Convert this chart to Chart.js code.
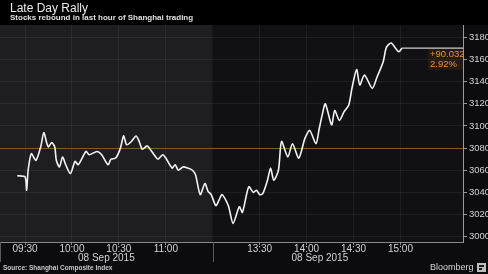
<!DOCTYPE html>
<html>
<head>
<meta charset="utf-8">
<script src="https://cdn.jsdelivr.net/npm/chart.js@4.4.0/dist/chart.umd.min.js"></script>
<style>
  html,body{margin:0;padding:0;background:#0c0c0f;}
  #wrap{position:relative;width:488px;height:274px;overflow:hidden;font-family:"Liberation Sans",Arial,sans-serif;}
  canvas{position:absolute;left:0;top:0;}
  .t{position:absolute;white-space:nowrap;}
  #title{left:10px;top:1px;font-size:12px;color:#ececec;}
  #sub{left:10px;top:13px;font-size:8px;font-weight:bold;color:#e0e0e0;}
  #src{left:3px;top:264px;font-size:6.5px;font-weight:bold;color:#c8c8c8;}
  #bb{left:430px;top:262px;font-size:9px;color:#d6d6d6;}
  #icon{position:absolute;left:477px;top:263px;width:9px;height:9px;background:#bdbdbd;}
  #icon i{position:absolute;background:#1a1a1a;}
</style>
</head>
<body>
<div id="wrap">
  <canvas id="c" width="488" height="274"></canvas>
  <div class="t" id="title">Late Day Rally</div>
  <div class="t" id="sub">Stocks rebound in last hour of Shanghai trading</div>
  <div class="t" id="src">Source: Shanghai Composite Index</div>
  <div class="t" id="bb">Bloomberg</div>
  <div id="icon"><i style="left:2px;top:2px;width:5px;height:2px"></i><i style="left:2px;top:5px;width:3px;height:2px"></i></div>
</div>
<script>
// ---- data ----
const times = ["09:25","09:30","09:31","09:32","09:34","09:37","09:40","09:42","09:44","09:45","09:47","09:49","09:50","09:52","09:54","09:56","09:59",
  "10:02","10:04","10:09","10:11","10:16","10:19","10:23","10:25","10:28","10:31","10:33","10:35","10:38","10:41","10:43","10:45","10:48","10:50","10:53","10:55","10:58",
  "11:00","11:04","11:06","11:08","11:11","11:14","11:17","11:19","11:22","11:25","11:27","11:29",
  "13:02","13:04","13:06","13:10","13:13","13:17","13:19","13:23","13:26","13:28","13:30","13:32","13:35","13:37","13:39","13:42","13:44","13:48","13:51","13:55","13:59",
  "14:02","14:06","14:08","14:10","14:12","14:16","14:18","14:21","14:24","14:27","14:29","14:32","14:34","14:37","14:42","14:45","14:49","14:51","14:54","14:57","14:59","15:01"];
const values = [3055,3054,3042,3060,3075,3069,3081,3094,3084,3081,3085,3081,3069,3063,3072,3065,3057,
  3068,3065,3077,3074,3077,3074,3065,3070,3071,3080,3091,3083,3086,3091,3086,3079,3082,3079,3073,3070,3074,
  3071,3062,3065,3060,3063,3062,3060,3056,3038,3048,3041,3038,
  3028,3033,3038,3028,3012,3027,3022,3045,3040,3042,3038,3039,3051,3062,3051,3060,3086,3072,3084,3071,3089,
  3096,3084,3097,3110,3120,3101,3114,3105,3113,3119,3134,3151,3137,3146,3134,3144,3158,3171,3175,3170,3167,3170.4];
const prevClose = 3080.4;
const change = "+90.032";
const changePct = "2.92%";
const xTickLabels = ["09:30","10:00","10:30","11:00","13:30","14:00","14:30","15:00"];
const yTickValues = [3000,3020,3040,3060,3080,3100,3120,3140,3160,3180];
const dateLabels = ["08 Sep 2015","08 Sep 2015"];

// session minute index: 09:30 -> 0, 11:30 -> 120, 13:00 -> 120, 15:00 -> 240
function toIdx(t){
  const [h,m] = t.split(":").map(Number);
  const mins = h*60+m;
  return mins < 12*60 ? mins - 570 : mins - 780 + 120;
}

const pts = times.map((t,i)=>({x:toIdx(t), y:values[i]}));

const bgPlugin = {
  id:'bg',
  beforeDraw(chart){
    const {ctx, chartArea:a, scales:{x}} = chart;
    ctx.save();
    ctx.fillStyle = '#0c0c0f';
    ctx.fillRect(0,0,chart.width,chart.height);
    ctx.fillStyle = '#000000';
    ctx.fillRect(0,0,chart.width,a.top);
    const split = x.getPixelForValue(120);
    ctx.fillStyle = '#1e1e22';
    ctx.fillRect(a.left,a.top,split-a.left,a.bottom-a.top);
    ctx.fillStyle = '#111115';
    ctx.fillRect(split,a.top,a.right-split,a.bottom-a.top);
    ctx.restore();
  },
  beforeDatasetsDraw(chart){
    const {ctx, chartArea:a, scales:{y}} = chart;
    const py = Math.round(y.getPixelForValue(prevClose))+0.5;
    ctx.save();
    ctx.strokeStyle = '#7a5e27';
    ctx.lineWidth = 1;
    ctx.beginPath(); ctx.moveTo(a.left,py); ctx.lineTo(a.right,py); ctx.stroke();
    ctx.restore();
  },
  afterDatasetsDraw(chart){
    const {ctx, chartArea:a, scales:{x,y}} = chart;
    const last = pts[pts.length-1];
    const lx = x.getPixelForValue(last.x), ly = y.getPixelForValue(last.y);
    ctx.save();
    ctx.strokeStyle = '#cfcfcf';
    ctx.lineWidth = 1.2;
    ctx.beginPath(); ctx.moveTo(lx,ly); ctx.lineTo(a.right,ly); ctx.stroke();
    // change annotation
    ctx.fillStyle = 'rgba(90,55,10,0.25)';
    ctx.fillRect(428, ly+1, a.right-428, 21);
    ctx.fillStyle = '#e8952f';
    ctx.font = '9.5px "Liberation Sans", Arial, sans-serif';
    ctx.textBaseline = 'middle';
    ctx.textAlign = 'left';
    ctx.fillText(change, 430, ly+6.5);
    ctx.fillText(changePct, 430, ly+16.5);
    // session separators below axis
    const split = x.getPixelForValue(120);
    ctx.strokeStyle = '#5a5a5e';
    ctx.lineWidth = 1;
    [a.left+0.5, Math.round(split)+0.5].forEach(px=>{
      ctx.beginPath(); ctx.moveTo(px,a.bottom); ctx.lineTo(px,a.bottom+20); ctx.stroke();
    });
    // date labels
    ctx.fillStyle = '#d4d4d4';
    ctx.font = '10px "Liberation Sans", Arial, sans-serif';
    ctx.textAlign = 'center';
    ctx.fillText(dateLabels[0], x.getPixelForValue(52), a.bottom+16.5);
    ctx.fillText(dateLabels[1], x.getPixelForValue(188.5), a.bottom+16.5);
    ctx.restore();
  }
};

new Chart(document.getElementById('c'), {
  type:'line',
  data:{datasets:[{
    data:pts,
    borderColor:'#f2f2f2',
    borderWidth:1.6,
    pointRadius:0,
    tension:0.25,
    fill:false
  }]},
  options:{
    responsive:false,
    animation:false,
    devicePixelRatio:1,
    layout:{padding:{top:25,left:0,right:0,bottom:0}},
    plugins:{legend:{display:false},tooltip:{enabled:false}},
    scales:{
      x:{
        type:'linear', position:'bottom', min:-16, max:280,
        afterFit(s){ s.height = 32; },
        afterBuildTicks(s){ s.ticks = xTickLabels.map(t=>({value:toIdx(t)})); },
        ticks:{
          autoSkip:false, maxRotation:0, padding:-2,
          color:'#d4d4d4', font:{size:10, family:'"Liberation Sans", Arial, sans-serif'},
          callback:(v,i)=>xTickLabels[i]
        },
        grid:{color:'rgba(255,255,255,0.06)', tickColor:'#8a8a8a', tickLength:3},
        border:{color:'#8a8a8a'}
      },
      y:{
        position:'right', min:2995.2, max:3191.2,
        afterFit(s){ s.width = 25; },
        afterBuildTicks(s){ s.ticks = yTickValues.map(v=>({value:v})); },
        ticks:{
          padding:2, color:'#d4d4d4', font:{size:9.5, family:'"Liberation Sans", Arial, sans-serif'},
          callback:v=>String(v)
        },
        grid:{color:'rgba(255,255,255,0.06)', tickColor:'#9a9a9a', tickLength:4},
        border:{color:'#9a9a9a'}
      }
    }
  },
  plugins:[bgPlugin]
});
</script>
</body>
</html>
